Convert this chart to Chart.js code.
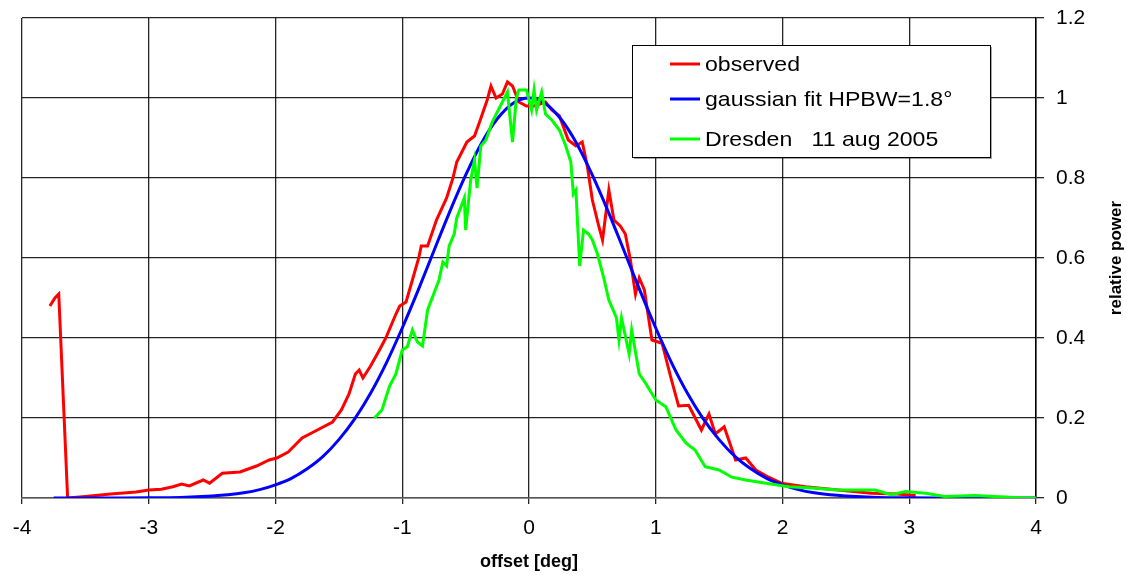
<!DOCTYPE html>
<html>
<head>
<meta charset="utf-8">
<script src="https://cdn.jsdelivr.net/npm/chart.js@4/dist/chart.umd.min.js"></script>
<style>
  body { margin: 0; background: #fff; }
  #wrap { width: 1127px; height: 575px; }
</style>
</head>
<body>
<div id="wrap"><canvas id="beamChart"></canvas></div>
<script>
// observed scan (red)
const observedOffset = [-3.78, -3.74, -3.71, -3.64, -3.5, -3.3, -3.1, -3.0, -2.9, -2.81, -2.74, -2.68, -2.57, -2.52, -2.42, -2.28, -2.15, -2.05, -1.99, -1.9, -1.79, -1.7, -1.55, -1.48, -1.42, -1.37, -1.34, -1.31, -1.25, -1.18, -1.13, -1.05, -1.02, -0.97, -0.92, -0.87, -0.85, -0.8, -0.73, -0.65, -0.6, -0.57, -0.49, -0.43, -0.39, -0.33, -0.3, -0.26, -0.21, -0.17, -0.13, -0.08, -0.02, 0.04, 0.13, 0.18, 0.24, 0.31, 0.37, 0.42, 0.46, 0.5, 0.55, 0.58, 0.63, 0.67, 0.72, 0.76, 0.8, 0.84, 0.87, 0.91, 0.97, 1.05, 1.12, 1.18, 1.26, 1.36, 1.42, 1.47, 1.54, 1.63, 1.71, 1.79, 1.89, 1.99, 2.18, 2.44, 2.7, 2.9, 3.05];
const observedPower = [0.48, 0.5, 0.51, 0.0, 0.004, 0.01, 0.015, 0.02, 0.022, 0.028, 0.035, 0.03, 0.045, 0.037, 0.062, 0.065, 0.08, 0.095, 0.1, 0.115, 0.15, 0.165, 0.19, 0.22, 0.26, 0.31, 0.32, 0.3, 0.33, 0.37, 0.4, 0.46, 0.48, 0.49, 0.545, 0.6, 0.63, 0.63, 0.695, 0.75, 0.8, 0.84, 0.89, 0.905, 0.94, 0.995, 1.03, 1.0, 1.01, 1.04, 1.03, 0.99, 0.98, 0.98, 0.99, 0.97, 0.955, 0.895, 0.88, 0.89, 0.83, 0.745, 0.68, 0.645, 0.77, 0.695, 0.68, 0.66, 0.595, 0.51, 0.55, 0.52, 0.395, 0.387, 0.3, 0.23, 0.232, 0.17, 0.21, 0.16, 0.178, 0.095, 0.1, 0.07, 0.052, 0.037, 0.028, 0.02, 0.012, 0.01, 0.006];

// gaussian fit (blue)
const fitOffset = [-3.75, -3.5, -3.25, -3.0, -2.75, -2.5, -2.375, -2.25, -2.125, -2.0, -1.875, -1.75, -1.625, -1.5, -1.375, -1.25, -1.125, -1.0, -0.875, -0.75, -0.625, -0.5, -0.375, -0.25, -0.125, 0, 0.125, 0.25, 0.375, 0.5, 0.625, 0.75, 0.875, 1.0, 1.125, 1.25, 1.375, 1.5, 1.625, 1.75, 1.875, 2.0, 2.125, 2.25, 2.375, 2.5, 2.75, 3.0, 3.25, 3.5, 3.75, 4.0];
const fitPower = [0, 0, 0.0001, 0.0004, 0.0015, 0.005, 0.008, 0.013, 0.021, 0.033, 0.049, 0.073, 0.104, 0.146, 0.198, 0.262, 0.338, 0.425, 0.519, 0.618, 0.716, 0.807, 0.887, 0.948, 0.987, 1.0, 0.987, 0.948, 0.887, 0.807, 0.716, 0.618, 0.519, 0.425, 0.338, 0.262, 0.198, 0.146, 0.104, 0.073, 0.049, 0.033, 0.021, 0.013, 0.008, 0.005, 0.0015, 0.0004, 0.0001, 0, 0, 0];

// Dresden reference scan (green)
const dresdenOffset = [-1.22, -1.16, -1.1, -1.05, -1.0, -0.96, -0.92, -0.88, -0.84, -0.8, -0.71, -0.68, -0.65, -0.63, -0.59, -0.57, -0.51, -0.5, -0.46, -0.43, -0.41, -0.38, -0.34, -0.29, -0.21, -0.17, -0.13, -0.1, -0.08, -0.02, 0.02, 0.04, 0.06, 0.1, 0.13, 0.18, 0.24, 0.29, 0.33, 0.35, 0.37, 0.4, 0.43, 0.47, 0.5, 0.54, 0.59, 0.63, 0.69, 0.71, 0.73, 0.79, 0.81, 0.87, 0.92, 1.0, 1.08, 1.16, 1.24, 1.31, 1.39, 1.5, 1.6, 1.71, 1.87, 2.05, 2.23, 2.44, 2.73, 2.86, 2.97, 3.13, 3.28, 3.52, 3.91, 4.0];
const dresdenPower = [0.2, 0.22, 0.28, 0.31, 0.37, 0.378, 0.42, 0.39, 0.38, 0.47, 0.545, 0.59, 0.58, 0.63, 0.66, 0.7, 0.75, 0.67, 0.795, 0.845, 0.775, 0.88, 0.895, 0.94, 0.99, 1.015, 0.89, 1.0, 1.02, 1.02, 0.97, 1.02, 0.97, 1.015, 0.96, 0.945, 0.92, 0.88, 0.84, 0.76, 0.77, 0.58, 0.67, 0.66, 0.645, 0.61, 0.55, 0.495, 0.45, 0.395, 0.45, 0.36, 0.42, 0.31, 0.287, 0.245, 0.228, 0.17, 0.137, 0.12, 0.078, 0.07, 0.052, 0.045, 0.037, 0.028, 0.025, 0.02, 0.02, 0.008, 0.016, 0.012, 0.004, 0.006, 0, 0];

const seriesNames = ["observed", "gaussian fit HPBW=1.8°", "Dresden   11 aug 2005"];
const seriesColors = ["#ff0000", "#0000ff", "#00ff00"];

function toPoints(xs, ys) {
  return xs.map((x, i) => ({ x: x, y: ys[i] }));
}

// legend box drawn inside the plot, like the original
const boxLegend = {
  id: "boxLegend",
  afterDraw(chart) {
    const ctx = chart.ctx;
    const x0 = 632, y0 = 45, w = 358, h = 112;
    ctx.save();
    ctx.fillStyle = "rgba(0,0,0,0.35)";
    ctx.fillRect(x0 + 2, y0 + 2, w, h);
    ctx.fillStyle = "#fff";
    ctx.fillRect(x0, y0, w, h);
    ctx.strokeStyle = "#000";
    ctx.lineWidth = 1;
    ctx.strokeRect(x0 + 0.5, y0 + 0.5, w, h);
    const rows = [64, 99, 139];
    ctx.font = "21px 'Liberation Sans', Arial, sans-serif";
    ctx.textBaseline = "middle";
    rows.forEach((ry, i) => {
      ctx.strokeStyle = seriesColors[i];
      ctx.lineWidth = 3;
      ctx.beginPath();
      ctx.moveTo(670, ry);
      ctx.lineTo(700, ry);
      ctx.stroke();
      ctx.fillStyle = "#000";
      // original text is a little wider than Liberation Sans
      ctx.save();
      ctx.translate(705, ry + 1);
      ctx.scale(1.1, 1);
      ctx.fillText(seriesNames[i], 0, 0);
      ctx.restore();
    });
    ctx.restore();
  }
};

// y title reads bottom to top on the right side
const rightTitle = {
  id: "rightTitle",
  afterDraw(chart) {
    const ctx = chart.ctx;
    const area = chart.chartArea;
    ctx.save();
    ctx.translate(1116, (area.top + area.bottom) / 2);
    ctx.rotate(-Math.PI / 2);
    ctx.font = "bold 17px 'Liberation Sans', Arial, sans-serif";
    ctx.fillStyle = "#000";
    ctx.textAlign = "center";
    ctx.textBaseline = "middle";
    ctx.fillText("relative power", 0, 0);
    ctx.restore();
  }
};

const tickFont = { family: "'Liberation Sans', Arial, sans-serif", size: 21 };
const gridStyle = { color: "rgba(0,0,0,0.85)", lineWidth: 1.3 };

new Chart(document.getElementById("beamChart"), {
  type: "scatter",
  data: {
    datasets: [
      {
        label: seriesNames[0],
        data: toPoints(observedOffset, observedPower),
        borderColor: seriesColors[0],
        borderWidth: 3,
        showLine: true,
        pointRadius: 0,
        order: 3
      },
      {
        label: seriesNames[1],
        data: toPoints(fitOffset, fitPower),
        borderColor: seriesColors[1],
        borderWidth: 3,
        showLine: true,
        pointRadius: 0,
        cubicInterpolationMode: "monotone",
        order: 2
      },
      {
        label: seriesNames[2],
        data: toPoints(dresdenOffset, dresdenPower),
        borderColor: seriesColors[2],
        borderWidth: 3,
        showLine: true,
        pointRadius: 0,
        order: 1
      }
    ]
  },
  options: {
    responsive: true,
    maintainAspectRatio: false,
    animation: false,
    layout: { padding: { top: 18, left: 22, right: 0, bottom: 0 } },
    plugins: {
      legend: { display: false },
      tooltip: { enabled: false }
    },
    scales: {
      x: {
        type: "linear",
        min: -4,
        max: 4,
        ticks: { stepSize: 1, font: tickFont, color: "#000", padding: 12 },
        grid: { color: gridStyle.color, lineWidth: gridStyle.lineWidth, tickLength: 6 },
        border: { color: "#555", width: 1.5 },
        title: {
          display: true,
          text: "offset [deg]",
          color: "#000",
          font: { family: "'Liberation Sans', Arial, sans-serif", size: 18, weight: "bold" },
          padding: { top: 0, bottom: 2 }
        },
        afterFit(scale) { scale.height = 77; }
      },
      y: {
        position: "right",
        min: 0,
        max: 1.2,
        ticks: {
          stepSize: 0.2,
          font: tickFont,
          color: "#000",
          padding: 12,
          callback: (v) => String(Number(v.toFixed(1)))
        },
        grid: { color: gridStyle.color, lineWidth: gridStyle.lineWidth, tickLength: 8 },
        border: { color: "#000", width: 1.5 },
        afterFit(scale) {
          scale.width = 91;
          scale.paddingTop = 0;
          scale.paddingBottom = 0;
        }
      }
    }
  },
  plugins: [boxLegend, rightTitle]
});
</script>
</body>
</html>
